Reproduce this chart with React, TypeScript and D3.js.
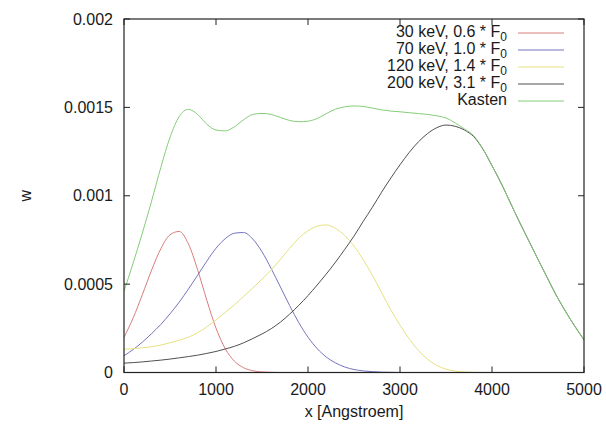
import React from "react";
import * as d3 from "d3";

const xValues = [
  0, 100, 200, 300, 400, 500, 600, 700, 800, 900,
  1000, 1100, 1200, 1300, 1400, 1500, 1600, 1700, 1800, 1900,
  2000, 2100, 2200, 2300, 2400, 2500, 2600, 2700, 2800, 2900,
  3000, 3100, 3200, 3300, 3400, 3500, 3600, 3700, 3800, 3900,
  4000, 4100, 4200, 4300, 4400, 4500, 4600, 4700, 4800, 4900, 5000,
];

const kev30 = [
  0.000199, 0.000309, 0.000441, 0.000579, 0.0007, 0.000779, 0.000798, 0.000728, 0.000582, 0.000409,
  0.000251, 0.000135, 0.000064, 0.000027, 0.00001, 0.000003, 0.000001, 0, 0, 0,
  0, 0, 0, 0, 0, 0, 0, 0, 0, 0,
  0, 0, 0, 0, 0, 0, 0, 0, 0, 0,
  0, 0, 0, 0, 0, 0, 0, 0, 0, 0, 0,
];

const kev70 = [
  0.000095, 0.00013, 0.000172, 0.00022, 0.000272, 0.000332, 0.000398, 0.000472, 0.00055, 0.00063,
  0.000703, 0.000757, 0.000788, 0.000792, 0.000755, 0.000683, 0.000588, 0.000484, 0.000379, 0.000282,
  0.0002, 0.000135, 0.000087, 0.000054, 0.000031, 0.000017, 0.000009, 0.000005, 0.000002, 0.000001,
  0, 0, 0, 0, 0, 0, 0, 0, 0, 0,
  0, 0, 0, 0, 0, 0, 0, 0, 0, 0, 0,
];

const kev120 = [
  0.000132, 0.000135, 0.00014, 0.000146, 0.000155, 0.000168, 0.000183, 0.0002, 0.000225, 0.000258,
  0.000297, 0.00034, 0.000383, 0.00043, 0.000478, 0.000528, 0.00058, 0.00064, 0.000702, 0.00076,
  0.000802, 0.000828, 0.000835, 0.000815, 0.000775, 0.000715, 0.000638, 0.00055, 0.000452, 0.000355,
  0.000268, 0.00019, 0.000125, 0.000075, 0.00004, 0.000019, 0.000008, 0.000003, 0.000001, 0,
  0, 0, 0, 0, 0, 0, 0, 0, 0, 0, 0,
];

const kev200 = [
  0.000053, 0.000056, 0.00006, 0.000065, 0.00007, 0.000076, 0.000083, 0.00009, 0.000098, 0.000108,
  0.000119, 0.000133, 0.000148, 0.000168, 0.000192, 0.000218, 0.000248, 0.000285, 0.00033, 0.00038,
  0.000435, 0.000495, 0.000558, 0.000625, 0.000697, 0.000772, 0.000855, 0.000935, 0.00102, 0.0011,
  0.001175, 0.001245, 0.001305, 0.001352, 0.001385, 0.0014, 0.001393, 0.001372, 0.001335, 0.001265,
  0.00117, 0.00107, 0.00096, 0.00085, 0.000745, 0.00064, 0.000537, 0.000435, 0.000345, 0.000262, 0.000185,
];

const kasten = [
  0.00046, 0.00062, 0.00079, 0.00097, 0.00116, 0.00133, 0.001448, 0.001489, 0.00146, 0.001405,
  0.001372, 0.001367, 0.00139, 0.00143, 0.00146, 0.001466, 0.00146, 0.001443, 0.001426, 0.001419,
  0.001422, 0.001437, 0.001465, 0.00149, 0.001503, 0.001508, 0.001505, 0.001496, 0.001486, 0.001479,
  0.001475, 0.00147, 0.001465, 0.00146, 0.001452, 0.00144, 0.001412, 0.001378, 0.00134, 0.001267,
  0.00117, 0.00107, 0.00096, 0.00085, 0.000745, 0.00064, 0.000537, 0.000435, 0.000345, 0.000262, 0.000185,
];

const xTicks = [0, 1000, 2000, 3000, 4000, 5000];
const yTicks = [0, 0.0005, 0.001, 0.0015, 0.002];
const yTickLabels = ["0", "0.0005", "0.001", "0.0015", "0.002"];

const seriesNames = [
  { main: "30 keV, 0.6 * F", sub: "0" },
  { main: "70 keV, 1.0 * F", sub: "0" },
  { main: "120 keV, 1.4 * F", sub: "0" },
  { main: "200 keV, 3.1 * F", sub: "0" },
  { main: "Kasten", sub: "" },
];
const seriesData = [kev30, kev70, kev120, kev200, kasten];
const seriesColors = ["#d87c7c", "#7474bc", "#e6e080", "#505050", "#86cc7a"];

const W = 606;
const H = 425;
const FONT = "'Liberation Sans', Arial, Helvetica, sans-serif";

export default function App() {
  const x = d3.scaleLinear().domain([0, 5000]).range([124, 584]);
  const y = d3.scaleLinear().domain([0, 0.002]).range([372.5, 19]);
  const line = d3
    .line<number>()
    .x((_, i) => x(xValues[i]))
    .y((d) => y(d))
    .curve(d3.curveMonotoneX);

  const [x0, x1] = x.range();
  const [y0, y1] = y.range();
  const tickLen = 6;

  return (
    <svg
      width={W}
      height={H}
      viewBox={`0 0 ${W} ${H}`}
      style={{ position: "absolute", left: 0, top: 0, background: "#fff" }}
      fontFamily={FONT}
    >
      <rect x={0} y={0} width={W} height={H} fill="#fff" />
      <defs>
        <clipPath id="plotclip">
          <rect x={x0} y={y1} width={x1 - x0} height={y0 - y1} />
        </clipPath>
      </defs>

      <g clipPath="url(#plotclip)">
        {seriesData.map((s, i) => (
          <path key={i} d={line(s) || ""} fill="none" stroke={seriesColors[i]} strokeWidth={1} />
        ))}
      </g>

      <rect x={x0} y={y1} width={x1 - x0} height={y0 - y1} fill="none" stroke="#222" strokeWidth={1.2} />

      {xTicks.map((t) => (
        <g key={"xt" + t}>
          <line x1={x(t)} x2={x(t)} y1={y0} y2={y0 - tickLen} stroke="#222" />
          <line x1={x(t)} x2={x(t)} y1={y1} y2={y1 + tickLen} stroke="#222" />
          <text x={x(t)} y={395} textAnchor="middle" fontSize={16} fill="#1a1a1a">
            {t}
          </text>
        </g>
      ))}

      {yTicks.map((t, i) => (
        <g key={"yt" + i}>
          <line x1={x0} x2={x0 + tickLen} y1={y(t)} y2={y(t)} stroke="#222" />
          <line x1={x1} x2={x1 - tickLen} y1={y(t)} y2={y(t)} stroke="#222" />
          <text x={113} y={y(t) + 5.5} textAnchor="end" fontSize={16} fill="#1a1a1a">
            {yTickLabels[i]}
          </text>
        </g>
      ))}

      <text x={354} y={417} textAnchor="middle" fontSize={16} fill="#1a1a1a">
        x [Angstroem]
      </text>
      <text
        transform={`translate(31, ${(y0 + y1) / 2}) rotate(-90)`}
        textAnchor="middle"
        fontSize={16}
        fill="#1a1a1a"
      >
        w
      </text>

      {seriesNames.map((n, i) => {
        const ry = 33 + 17 * i;
        return (
          <g key={"lg" + i}>
            <text x={507} y={ry + 3.5} textAnchor="end" fontSize={16} fill="#1a1a1a">
              {n.main}
              {n.sub ? (
                <tspan fontSize={12} dy={4}>
                  {n.sub}
                </tspan>
              ) : null}
            </text>
            <line x1={518} x2={564} y1={ry} y2={ry} stroke={seriesColors[i]} strokeWidth={1} />
          </g>
        );
      })}
    </svg>
  );
}
